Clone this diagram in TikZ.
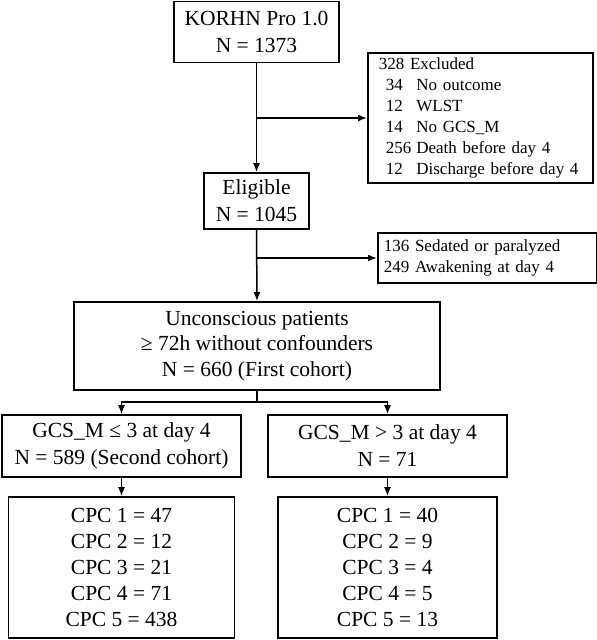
\documentclass[tikz,border=0pt]{standalone}
\usepackage{fontspec}
\setmainfont{Liberation Serif}
\usetikzlibrary{arrows.meta,positioning,calc}

\begin{document}
\begin{tikzpicture}[x=1pt,y=-1pt,>={Latex[length=9pt,width=7pt]},
  box/.style={draw,line width=1.7pt,align=center,inner sep=0pt,font=\fontsize{21.5}{27}\selectfont},
  sidebox/.style={draw,line width=1.7pt,align=left,anchor=west,inner ysep=0pt,font=\fontsize{17}{21}\selectfont},
  flow/.style={->,line width=1.5pt},
  link/.style={line width=1.5pt}]
  \useasboundingbox (0,0) rectangle (597,640);
  % main column
  \node[box,minimum width=165pt,minimum height=61pt] (korhn) at (256.5,32) {KORHN Pro 1.0\\N = 1373};
  \node[box,minimum width=105pt,minimum height=56pt] (elig) at (256.5,201) {Eligible\\N = 1045};
  \node[box,minimum width=366pt,minimum height=88pt,font=\fontsize{21.5}{25.5}\selectfont] (uncon) at (257,346)
    {Unconscious patients\\≥ 72h without confounders\\N = 660 (First cohort)};
  % exclusions on the right
  \node[sidebox,text width=203pt,inner xsep=11pt,minimum height=130pt] (excl) at (367,118) {%
    \begin{tabular}{@{\hspace{7pt}}l@{\hspace{5pt}}l@{}}
      \multicolumn{2}{@{}l@{}}{328 Excluded}\\
      34 & No outcome\\
      12 & WLST\\
      14 & No GCS\_M\\
      256 & Death before day 4\\
      12 & Discharge before day 4
    \end{tabular}};
  \node[sidebox,text width=207pt,inner xsep=6pt,minimum height=50pt] (sed) at (377,258)
    {136 Sedated or paralyzed\\249 Awakening at day 4};
  % two cohorts
  \node[box,minimum width=239pt,minimum height=62pt] (gcsA) at (121.5,446) {GCS\_M ≤ 3 at day 4\\N = 589 (Second cohort)};
  \node[box,minimum width=239pt,minimum height=62pt] (gcsB) at (387.5,446) {GCS\_M > 3 at day 4\\N = 71};
  \node[box,minimum width=226pt,minimum height=141pt,font=\fontsize{21.5}{26}\selectfont] (cpcA) at (121.5,567.5)
    {CPC 1 = 47\\CPC 2 = 12\\CPC 3 = 21\\CPC 4 = 71\\CPC 5 = 438};
  \node[box,minimum width=219pt,minimum height=141pt,font=\fontsize{21.5}{26}\selectfont] (cpcB) at (387.5,567.5)
    {CPC 1 = 40\\CPC 2 = 9\\CPC 3 = 4\\CPC 4 = 5\\CPC 5 = 13};
  % connectors
  \draw[flow] (korhn.south) -- (elig.north);
  \coordinate (k1) at (korhn.south |- excl.west);
  \draw[flow] (k1) -- (excl.west);
  \draw[flow] (elig.south) -- (uncon.north);
  \coordinate (k2) at (elig.south |- sed.west);
  \draw[flow] (k2) -- (sed.west);
  \coordinate (split) at ($(uncon.south)+(0,11)$);
  \draw[link] (uncon.south) -- (split);
  \draw[flow] (split) -| (gcsA.north);
  \draw[flow] (split) -| (gcsB.north);
  \draw[flow] (gcsA.south) -- (cpcA.north);
  \draw[flow] (gcsB.south) -- (cpcB.north);
\end{tikzpicture}
\end{document}
